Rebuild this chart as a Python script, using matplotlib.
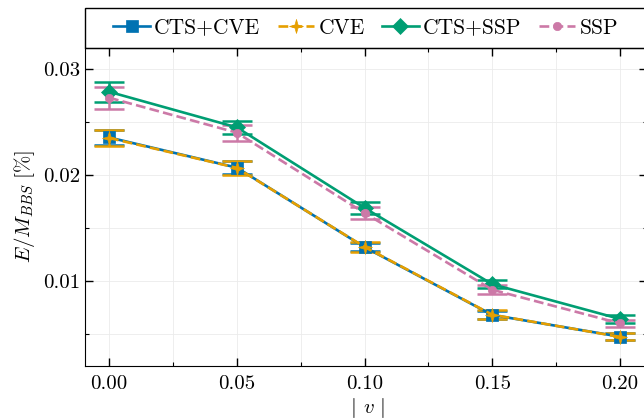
import matplotlib
matplotlib.use("Agg")
import matplotlib.pyplot as plt
from matplotlib.patches import Rectangle
from matplotlib.ticker import MultipleLocator, FormatStrFormatter

plt.rcParams['font.family'] = 'serif'
plt.rcParams['font.serif'] = ['cmr10']
plt.rcParams['mathtext.fontset'] = 'cm'
plt.rcParams['axes.formatter.use_mathtext'] = True
plt.rcParams['font.size'] = 15

v = [0.00, 0.05, 0.10, 0.15, 0.20]

cts_cve = [0.02355, 0.02070, 0.01320, 0.00680, 0.00475]
cts_cve_err = [0.00070, 0.00060, 0.00040, 0.00040, 0.00030]
cve = [0.02350, 0.02068, 0.01322, 0.00682, 0.00473]
cve_err = [0.00074, 0.00063, 0.00045, 0.00040, 0.00032]
cts_ssp = [0.02786, 0.02450, 0.01690, 0.00970, 0.00642]
cts_ssp_err = [0.00094, 0.00063, 0.00060, 0.00040, 0.00040]
ssp = [0.02730, 0.02400, 0.01642, 0.00918, 0.00600]
ssp_err = [0.00102, 0.00074, 0.00060, 0.00045, 0.00035]

labels = ['CTS+CVE', 'CVE', 'CTS+SSP', 'SSP']
colors = ['#0072B2', '#E69F00', '#009E73', '#CC79A7']

# four pointed star marker
s = 0.22
star4 = [(0, 1), (s, s), (1, 0), (s, -s), (0, -1), (-s, -s), (-1, 0), (-s, s), (0, 1)]

fig = plt.figure(figsize=(6.44, 4.2), dpi=100)
ax = fig.add_axes([0.132, 0.129, 0.872, 0.757])

series = [
    (cts_cve, cts_cve_err, 's', '-', 8.5),
    (cve, cve_err, star4, '--', 10),
    (cts_ssp, cts_ssp_err, 'D', '-', 8),
    (ssp, ssp_err, 'o', '--', 6),
]
handles = []
for (y, e, m, ls, ms), lab, c in zip(series, labels, colors):
    h = ax.errorbar(v, y, yerr=e, color=c, marker=m, ls=ls, ms=ms, lw=1.9,
                    capsize=11, capthick=1.8, elinewidth=1.8)
    h[0].set_markeredgewidth(0.5)
    handles.append(h[0])

ax.set_xlim(-0.0094, 0.2104)
ax.set_ylim(0.0020, 0.0320)
ax.xaxis.set_major_locator(MultipleLocator(0.05))
ax.xaxis.set_minor_locator(MultipleLocator(0.025))
ax.yaxis.set_major_locator(MultipleLocator(0.01))
ax.yaxis.set_minor_locator(MultipleLocator(0.005))
ax.xaxis.set_major_formatter(FormatStrFormatter('%.2f'))
ax.yaxis.set_major_formatter(FormatStrFormatter('%.2f'))
ax.tick_params(which='both', direction='in', top=True, right=True)
ax.tick_params(which='major', length=6, width=1)
ax.tick_params(which='minor', length=3, width=0.8)
ax.tick_params(axis='x', pad=7)
ax.grid(which='both', color='#ebebeb', lw=0.6)
ax.set_axisbelow(True)

ax.set_xlabel(r'$\mid\, v \,\mid$', labelpad=2)
ax.set_ylabel(r'$E/M_{BBS}\ [\%]$')

# legend box on top of the axes
ax.add_patch(Rectangle((0, 1), 1, 0.126, transform=ax.transAxes,
                       fill=False, lw=1, ec='black', clip_on=False))
ax.legend(handles, labels, loc='center', bbox_to_anchor=(0.5, 1.063),
          ncol=4, frameon=False, handlelength=1.7, handletextpad=0.2,
          columnspacing=0.8, borderaxespad=0, fontsize=15.5)

fig.savefig('out.png', dpi=100)
